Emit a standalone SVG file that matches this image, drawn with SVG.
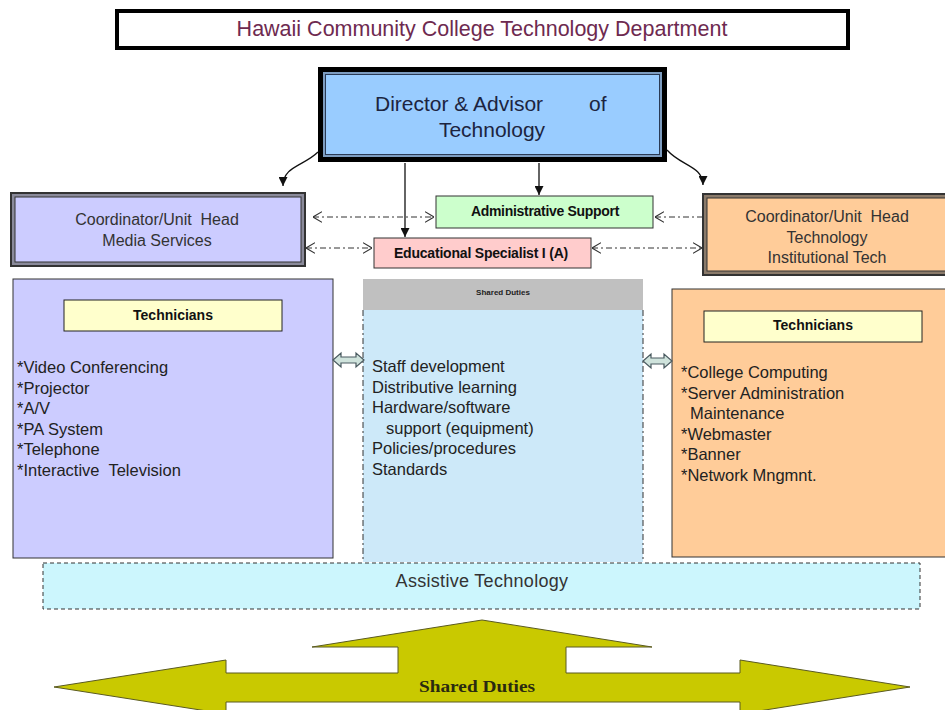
<svg xmlns="http://www.w3.org/2000/svg" width="945" height="710" viewBox="0 0 945 710">
<style>
text{font-family:"Liberation Sans",Arial,sans-serif;fill:#222}
.b{font-weight:bold;font-size:14px;fill:#111}
.lst{font-size:16.5px}
.coord{font-size:16px;fill:#333}
.dd{fill:none;stroke:#333;stroke-width:1;stroke-dasharray:6 3 2 3}
.chev{fill:none;stroke:#333;stroke-width:1}
.solid{fill:none;stroke:#111;stroke-width:1.3}
.dbl{fill:#cfe3dc;stroke:#4a5a60;stroke-width:1.2}
</style>
<defs>
<marker id="ah" viewBox="0 0 10 10" refX="10" refY="5" markerWidth="9" markerHeight="9" markerUnits="userSpaceOnUse" orient="auto">
<path d="M0,0 L10,5 L0,10 Z" fill="#111"/>
</marker>
<marker id="oa" viewBox="0 0 10 12" refX="10" refY="6" markerWidth="9" markerHeight="12" markerUnits="userSpaceOnUse" orient="auto-start-reverse">
<path d="M0,0 L10,6 L0,12" fill="none" stroke="#333" stroke-width="1.2"/>
</marker>
</defs>
<rect width="945" height="710" fill="#fff"/>

<g id="title">
<rect x="117" y="11" width="731" height="37" fill="#fff" stroke="#000" stroke-width="4"/>
<text x="482" y="36" text-anchor="middle" font-size="21.5" style="fill:#6e2a50">Hawaii Community College Technology Department</text>
</g>

<g id="director">
<rect x="318" y="67" width="349" height="95" fill="#000"/>
<rect x="323" y="72" width="339" height="85" fill="#7d9cc0"/>
<rect x="325.5" y="74.5" width="334" height="80" fill="#99ccff" stroke="#2a3a55" stroke-width="1"/>
<text font-size="21" style="fill:#1c2440"><tspan x="375" y="111">Director &amp; Advisor</tspan><tspan x="589" y="111">of</tspan></text>
<text x="492" y="137" text-anchor="middle" font-size="21" style="fill:#1c2440">Technology</text>
</g>

<g id="coord-media">
<rect x="11" y="193" width="294" height="73" fill="#8a8a9a" stroke="#333" stroke-width="2"/>
<rect x="15" y="197" width="286" height="65" fill="#ccccff" stroke="#333" stroke-width="1"/>
<text x="157" y="225" text-anchor="middle" class="coord" xml:space="preserve">Coordinator/Unit  Head</text>
<text x="157" y="246" text-anchor="middle" class="coord">Media Services</text>
</g>

<g id="coord-tech">
<rect x="703" y="194" width="245" height="81" fill="#8a7a6a" stroke="#333" stroke-width="2"/>
<rect x="707" y="198" width="245" height="73" fill="#ffcc99" stroke="#333" stroke-width="1"/>
<text x="827" y="222" text-anchor="middle" class="coord" xml:space="preserve">Coordinator/Unit  Head</text>
<text x="827" y="243" text-anchor="middle" class="coord">Technology</text>
<text x="827" y="263" text-anchor="middle" class="coord">Institutional Tech</text>
</g>

<g id="admin-support">
<rect x="436" y="196" width="217" height="32" fill="#ccffcc" stroke="#333" stroke-width="1"/>
<text x="545" y="216" text-anchor="middle" class="b" letter-spacing="-0.3">Administrative Support</text>
</g>

<g id="ed-specialist">
<rect x="374" y="238" width="217" height="30" fill="#ffcccc" stroke="#333" stroke-width="1"/>
<text x="481" y="258" text-anchor="middle" class="b" letter-spacing="-0.2">Educational Specialist I (A)</text>
</g>

<g id="media-technicians">
<rect x="13" y="279" width="320" height="279" fill="#ccccff" stroke="#333" stroke-width="1"/>
<rect x="64" y="300" width="218" height="31" fill="#ffffcc" stroke="#222" stroke-width="1"/>
<text x="173" y="320" text-anchor="middle" class="b">Technicians</text>
<text class="lst" xml:space="preserve"><tspan x="17" y="373">*Video Conferencing</tspan><tspan x="17" y="393.5">*Projector</tspan><tspan x="17" y="414">*A/V</tspan><tspan x="17" y="434.5">*PA System</tspan><tspan x="17" y="455">*Telephone</tspan><tspan x="17" y="475.5">*Interactive  Television</tspan></text>
</g>

<g id="shared-duties-box">
<rect x="363" y="310" width="280" height="252" fill="#cde9f9"/>
<line x1="363" y1="310" x2="363" y2="562" class="dd"/>
<line x1="643" y1="310" x2="643" y2="562" class="dd"/>
<rect x="363" y="279" width="280" height="31" fill="#c0c0c0"/>
<text x="503" y="295" text-anchor="middle" font-size="8" font-weight="bold">Shared Duties</text>
<text class="lst" xml:space="preserve"><tspan x="372" y="372">Staff development</tspan><tspan x="372" y="392.5">Distributive learning</tspan><tspan x="372" y="413">Hardware/software</tspan><tspan x="386" y="433.5">support (equipment)</tspan><tspan x="372" y="454">Policies/procedures</tspan><tspan x="372" y="474.5">Standards</tspan></text>
</g>

<g id="tech-technicians">
<rect x="672" y="289" width="280" height="268" fill="#ffcc99" stroke="#333" stroke-width="1"/>
<rect x="704" y="311" width="218" height="31" fill="#ffffcc" stroke="#222" stroke-width="1"/>
<text x="813" y="330" text-anchor="middle" class="b">Technicians</text>
<text class="lst"><tspan x="681" y="378">*College Computing</tspan><tspan x="681" y="398.5">*Server Administration</tspan><tspan x="690" y="419">Maintenance</tspan><tspan x="681" y="439.5">*Webmaster</tspan><tspan x="681" y="460">*Banner</tspan><tspan x="681" y="480.5">*Network Mngmnt.</tspan></text>
</g>

<g id="assistive-technology">
<rect x="43" y="563" width="877" height="46" fill="#ccf6fd" stroke="#333" stroke-width="1" stroke-dasharray="4 3"/>
<text x="482" y="587" text-anchor="middle" font-size="18" letter-spacing="0.3" style="fill:#333">Assistive Technology</text>
</g>

<g id="shared-duties-arrow">
<polygon points="482,620 652,647 566,647 566,673 740,673 740,660 910,687 740,714 740,702 226,702 226,714 54,687 226,660 226,673 398,673 398,647 312,647" fill="#c9c900" stroke="#5a5a20" stroke-width="1"/>
<text x="477" y="692" text-anchor="middle" font-family="Liberation Serif, Times New Roman, serif" font-weight="bold" font-size="16" textLength="116" lengthAdjust="spacingAndGlyphs" style="font-family:'Liberation Serif',serif;fill:#2a2a10">Shared Duties</text>
</g>

<g id="connectors">
<path d="M318,152 C304,166 283,166 283,186" class="solid" marker-end="url(#ah)"/>
<path d="M667,150 C681,166 703,166 703,185" class="solid" marker-end="url(#ah)"/>
<line x1="405" y1="163" x2="405" y2="237" class="solid" marker-end="url(#ah)"/>
<line x1="539" y1="163" x2="539" y2="195" class="solid" marker-end="url(#ah)"/>
<line x1="313" y1="217" x2="434" y2="217" class="dd" marker-start="url(#oa)" marker-end="url(#oa)"/>
<line x1="306" y1="248" x2="372" y2="248" class="dd" marker-start="url(#oa)" marker-end="url(#oa)"/>
<line x1="592" y1="248" x2="702" y2="248" class="dd" marker-start="url(#oa)" marker-end="url(#oa)"/>
<line x1="655" y1="217" x2="702" y2="217" class="dd" marker-start="url(#oa)"/>
<path d="M333,360 L341,353 L341,357 L356,357 L356,353 L364,360 L356,367 L356,363 L341,363 L341,367 Z" class="dbl"/>
<path d="M643,361 L651,354 L651,358 L664,358 L664,354 L672,361 L664,368 L664,364 L651,364 L651,368 Z" class="dbl"/>
</g>
</svg>
